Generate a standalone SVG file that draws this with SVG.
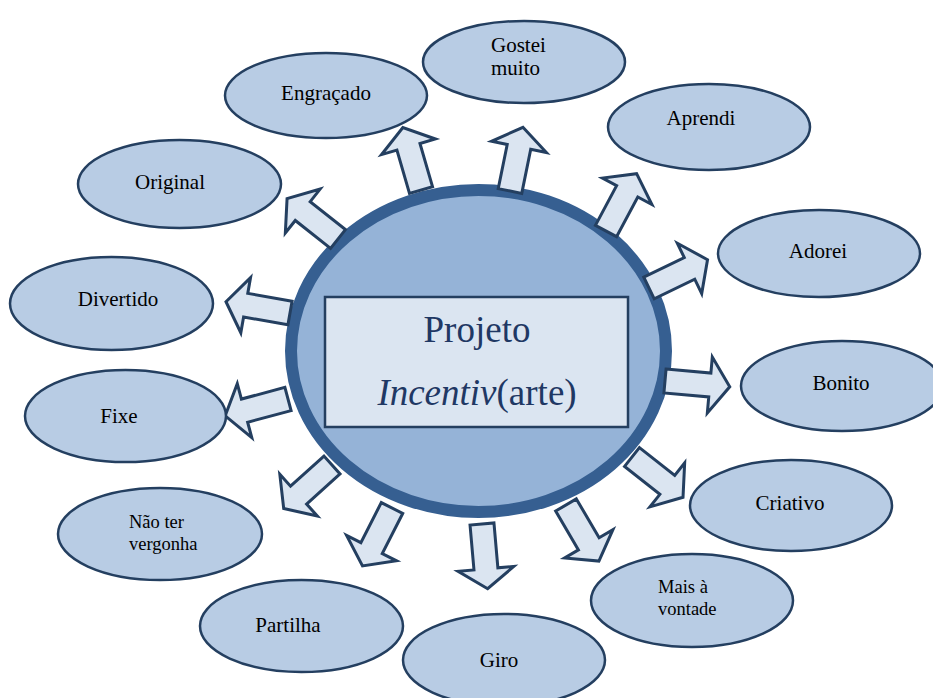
<svg xmlns="http://www.w3.org/2000/svg" width="933" height="698" viewBox="0 0 933 698">
<style>
.node ellipse{fill:#B8CCE4;stroke:#243F60;stroke-width:2.5}
text{font-family:'Liberation Serif','Times New Roman','DejaVu Serif',serif}
.lbl{font-size:21px;fill:#000;text-anchor:middle}
.lbl2{font-size:18.5px;fill:#000}
.lbl3{font-size:21px;fill:#000}
.arr{fill:#DBE5F1;stroke:#243F60;stroke-width:3;stroke-linejoin:miter}
.title{font-size:37px;fill:#1F3864;text-anchor:middle}
</style>
<defs>
<polygon id="ar" points="0,-12 45,-12 45,-28 65,0 45,28 45,12 0,12"/>
</defs>
<rect width="933" height="698" fill="#fff"/>
<g id="center">
<ellipse cx="478.5" cy="351" rx="187.5" ry="161" fill="#95B3D7" stroke="#365F91" stroke-width="12"/>
<rect x="325" y="297" width="303" height="130" fill="#DBE5F1" stroke="#243F60" stroke-width="2.5"/>
<text class="title" x="477" y="342">Projeto</text>
<text class="title" x="477" y="405"><tspan font-style="italic">Incentiv</tspan>(arte)</text>
</g>
<g id="connectors" class="arr">
<use href="#ar" transform="translate(421,190) rotate(-106.2)"/>
<use href="#ar" transform="translate(510,191) rotate(-78.5)"/>
<use href="#ar" transform="translate(606,231) rotate(-61.9)"/>
<use href="#ar" transform="translate(649,288) rotate(-25.8)"/>
<use href="#ar" transform="translate(665,381) rotate(5.1)"/>
<use href="#ar" transform="translate(632,457) rotate(38.3)"/>
<use href="#ar" transform="translate(566,505) rotate(59.6)"/>
<use href="#ar" transform="translate(482,524) rotate(85)"/>
<use href="#ar" transform="translate(392,508) rotate(117)"/>
<use href="#ar" transform="translate(332,465) rotate(138)"/>
<use href="#ar" transform="translate(288,399) rotate(165)"/>
<use href="#ar" transform="translate(290,313) rotate(-170)"/>
<use href="#ar" transform="translate(338,239) rotate(-141.6)"/>
</g>
<g id="n-gostei" class="node"><ellipse cx="524" cy="62" rx="101" ry="41"/><text class="lbl3" x="491" y="52">Gostei</text><text class="lbl3" x="491" y="75">muito</text></g>
<g id="n-engracado" class="node"><ellipse cx="326" cy="95.5" rx="101" ry="42.5"/><text class="lbl" x="326" y="100">Engraçado</text></g>
<g id="n-aprendi" class="node"><ellipse cx="709" cy="127" rx="101" ry="43"/><text class="lbl" x="701" y="125">Aprendi</text></g>
<g id="n-original" class="node"><ellipse cx="179.5" cy="184" rx="101.5" ry="44"/><text class="lbl" x="170" y="189">Original</text></g>
<g id="n-adorei" class="node"><ellipse cx="819" cy="253.5" rx="101" ry="43.5"/><text class="lbl" x="818" y="258">Adorei</text></g>
<g id="n-divertido" class="node"><ellipse cx="111.5" cy="303.5" rx="101.5" ry="46.5"/><text class="lbl" x="118" y="306">Divertido</text></g>
<g id="n-fixe" class="node"><ellipse cx="125.5" cy="416" rx="100.5" ry="46"/><text class="lbl" x="119" y="423">Fixe</text></g>
<g id="n-bonito" class="node"><ellipse cx="842" cy="386" rx="101" ry="45"/><text class="lbl" x="841" y="390">Bonito</text></g>
<g id="n-criativo" class="node"><ellipse cx="791" cy="505.5" rx="101" ry="45.5"/><text class="lbl" x="790" y="510">Criativo</text></g>
<g id="n-naoter" class="node"><ellipse cx="160" cy="534" rx="102" ry="46"/><text class="lbl2" x="129" y="528">Não ter</text><text class="lbl2" x="129" y="550">vergonha</text></g>
<g id="n-mais" class="node"><ellipse cx="692" cy="600.5" rx="101" ry="46.5"/><text class="lbl2" x="658" y="593">Mais à</text><text class="lbl2" x="658" y="615">vontade</text></g>
<g id="n-partilha" class="node"><ellipse cx="301.5" cy="626" rx="101.5" ry="46"/><text class="lbl" x="288" y="632">Partilha</text></g>
<g id="n-giro" class="node"><ellipse cx="504" cy="660" rx="101" ry="46"/><text class="lbl" x="499" y="667">Giro</text></g>
</svg>
